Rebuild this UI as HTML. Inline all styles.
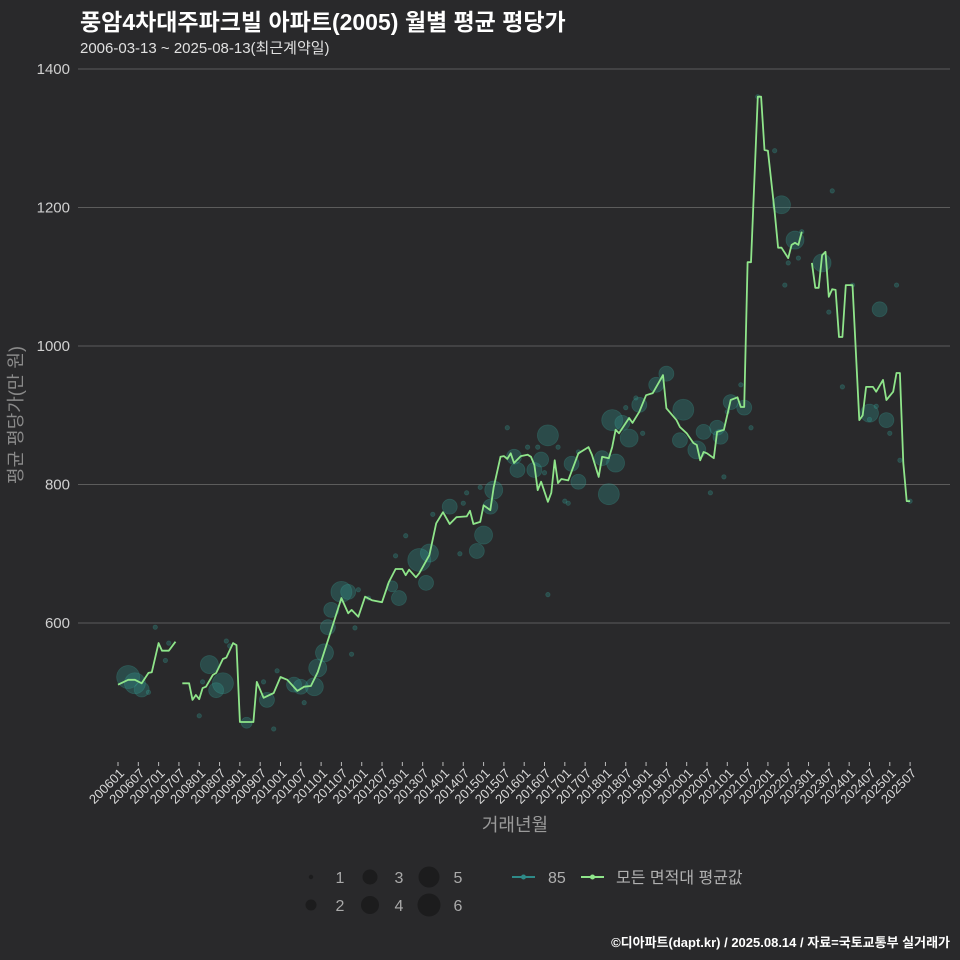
<!DOCTYPE html>
<html><head><meta charset="utf-8">
<style>
body{margin:0;background:#29292b;}
svg{display:block;font-family:"Liberation Sans","Noto Sans CJK KR",sans-serif;}
</style></head>
<body>
<svg id="chart" width="960" height="960" viewBox="0 0 960 960">
<rect x="0" y="0" width="960" height="960" fill="#29292b"/>
<text x="80" y="30" fill="#ffffff" font-size="23" font-weight="bold">풍암4차대주파크빌 아파트(2005) 월별 평균 평당가</text>
<text x="80" y="53" fill="#e0e0e0" font-size="15">2006-03-13 ~ 2025-08-13(최근계약일)</text>
<g id="grid"></g>
<g id="bubbles"></g>
<g id="lines"></g>
<g id="xaxis"></g>
<text x="515" y="831" fill="#9a9a9a" font-size="18" text-anchor="middle">거래년월</text>
<text transform="translate(22,415) rotate(-90)" fill="#8a8a8a" font-size="18" text-anchor="middle">평균 평당가(만 원)</text>
<g id="legend"></g>
<text x="950" y="947" fill="#ffffff" font-size="13" font-weight="bold" text-anchor="end">©디아파트(dapt.kr) / 2025.08.14 / 자료=국토교통부 실거래가</text>
</svg>
<script>
const yTicks=[600,800,1000,1200,1400];
const xTickLabels=["200601","200607","200701","200707","200801","200807","200901","200907","201001","201007","201101","201107","201201","201207","201301","201307","201401","201407","201501","201507","201601","201607","201701","201707","201801","201807","201901","201907","202001","202007","202101","202107","202201","202207","202301","202307","202401","202407","202501","202507"];
// average line: month index (from 2006-01) and value; null = gap
const lineMonths=[0,3,5,7,9,10,12,13,15,17,18,19,21,22,23,24,25,26,28,29,31,32,34,35,36,40,41,43,46,48,50,53,55,57,59,63,66,68,69,71,73,75,78,80,82,84,85,86,88,89,92,94,96,98,100,103,104,105,107,108,110,111,113,114,115,116,117,119,121,122,123,124,125,127,128,129,130,131,133,136,139,140,142,143,145,146,147,148,151,152,154,156,158,161,162,165,166,168,170,171,172,173,174,176,177,179,181,183,184,185,186,187,189,190,191,192,194,195,196,198,199,200,201,202,203,205,206,207,208,209,210,211,212,213,214,215,217,219,220,221,223,224,226,227,229,230,231,232,233,234];
const lineValues=[511,518,518,513,528,529,571,560,560,573,null,513,513,489,496,490,506,508,525,528,548,550,571,568,457,457,515,492,499,522,518,502,508,509,529,590,636,614,619,609,638,633,630,659,678,678,669,677,666,672,698,744,760,743,753,754,762,743,746,770,763,796,840,841,837,845,831,841,843,840,828,792,804,775,788,835,802,808,806,845,854,843,811,840,838,854,879,874,896,889,905,929,932,958,910,893,883,874,860,857,835,847,845,838,876,879,922,926,912,912,1121,1121,1360,1360,1283,1282,1193,1142,1142,1127,1146,1149,1146,1165,null,1120,1084,1084,1131,1136,1071,1082,1081,1013,1013,1088,1088,893,900,941,941,934,951,922,934,961,961,831,776,776];
// bubbles (85㎡): month, value, count
const bubMonths=[3,5,7,9,11,14,15,24,25,27,29,31,32,33,38,43,44,46,47,52,54,55,58,59,61,62,63,66,68,69,70,71,74,81,82,83,85,89,91,92,93,98,101,102,103,106,107,108,110,111,115,117,118,121,123,124,125,126,127,127,130,132,133,134,136,136,143,145,146,147,149,150,151,153,154,155,159,162,166,167,171,173,175,177,178,179,180,181,184,185,187,189,194,196,197,198,200,201,202,208,210,211,214,217,222,222,224,225,227,228,230,231,234];
const bubValues=[522,513,504,500,594,546,571,466,515,540,503,513,574,567,456,515,489,447,531,511,508,485,508,535,557,594,619,645,645,555,593,648,636,653,697,636,726,691,658,701,757,768,700,773,788,704,796,727,768,792,882,840,821,854,821,854,836,817,871,641,854,776,773,830,804,847,838,786,893,831,889,911,867,925,915,874,944,960,864,908,850,876,788,882,869,811,905,919,944,911,882,1360,1282,1204,1088,1120,1153,1127,1165,1120,1049,1224,941,1088,903,894,913,1053,893,874,1088,835,776];
const bubCounts=[6,5,3,1,1,1,1,1,1,4,3,5,1,1,2,1,3,1,1,3,3,1,4,4,4,3,3,5,3,1,1,1,1,2,1,3,1,6,3,4,1,3,1,1,1,3,1,4,3,4,1,3,3,1,3,1,3,1,5,1,1,1,1,3,3,1,3,5,5,4,3,1,4,1,3,1,3,3,3,5,4,3,1,3,3,1,1,3,1,3,1,1,1,4,1,1,4,1,1,4,1,1,1,1,4,1,1,3,3,1,1,1,1];
const legendCounts=[1,2,3,4,5,6];

const NS="http://www.w3.org/2000/svg";
const X0=118, DX=3.385, Y0=69, VTOP=1400, PXPER=1/1.444;
function xs(m){return X0+m*DX;}
function ys(v){return Y0+(VTOP-v)*PXPER;}
function rs(c){return [0,2.2,5.5,7.5,9,10.5,11.5][c];}
function mk(tag,attrs,parent){const e=document.createElementNS(NS,tag);for(const k in attrs)e.setAttribute(k,attrs[k]);parent.appendChild(e);return e;}

const grid=document.getElementById('grid');
yTicks.forEach(v=>{
  const l=mk('line',{x1:78,x2:950,y1:ys(v),y2:ys(v),stroke:'#5c5c5c','stroke-width':1},grid);
  
  
  const t=mk('text',{x:70,y:ys(v)+5,fill:'#d0d0d0','font-size':15,'text-anchor':'end'},grid);
  t.textContent=v;
  
  
});

const xa=document.getElementById('xaxis');
xTickLabels.forEach((lab,i)=>{
  const x=xs(i*6);
  const tk=mk('line',{x1:x,x2:x,y1:762,y2:766,stroke:'#bbbbbb','stroke-width':1},xa);
  
  
  const t=mk('text',{transform:'translate('+(x+7)+',774) rotate(-45)',fill:'#d8d8d8','font-size':13,'text-anchor':'end'},xa);
  t.textContent=lab;
  
  
});

const bg=document.getElementById('bubbles');
bubMonths.forEach((m,i)=>{
  const c=mk('circle',{cx:xs(m),cy:ys(bubValues[i]),r:rs(bubCounts[i]),fill:'rgba(50,150,140,0.32)',stroke:'rgba(60,170,160,0.25)','stroke-width':0.8},bg);
  
  
});

const lg=document.getElementById('lines');
let segs=[],cur=[];
lineMonths.forEach((m,i)=>{
  const v=lineValues[i];
  if(v===null){if(cur.length)segs.push(cur);cur=[];}
  else cur.push(xs(m).toFixed(1)+','+ys(v).toFixed(1));
});
if(cur.length)segs.push(cur);
segs.forEach(s=>{
  const p=mk('polyline',{points:s.join(' '),fill:'none',stroke:'#8fe58a','stroke-width':1.8,'stroke-linejoin':'round'},lg);
  
  
});

const leg=document.getElementById('legend');
legendCounts.forEach((c,i)=>{
  const col=Math.floor(i/2), row=i%2;
  const cx=311+col*59, cy=877+row*28;
  const ci=mk('circle',{cx:cx,cy:cy,r:rs(c),fill:'#1c1c1d'},leg);
  
  
  const t=mk('text',{x:cx+29,y:cy+6,fill:'#aaaaaa','font-size':16,'text-anchor':'middle'},leg);
  t.textContent=c;
  
  
});
const l1=mk('line',{x1:512,x2:535,y1:877,y2:877,stroke:'#2e8a88','stroke-width':2},leg);


const d1=mk('circle',{cx:523.5,cy:877,r:2.5,fill:'#2e8a88'},leg);


const t1=mk('text',{x:548,y:883,fill:'#b0b0b0','font-size':16},leg);
t1.textContent='85';


const l2=mk('line',{x1:581,x2:604,y1:877,y2:877,stroke:'#8fe58a','stroke-width':2},leg);


const d2=mk('circle',{cx:592.5,cy:877,r:2.5,fill:'#8fe58a'},leg);


const t2=mk('text',{x:616,y:883,fill:'#b0b0b0','font-size':16},leg);
t2.textContent='모든 면적대 평균값';


</script>
</body></html>
